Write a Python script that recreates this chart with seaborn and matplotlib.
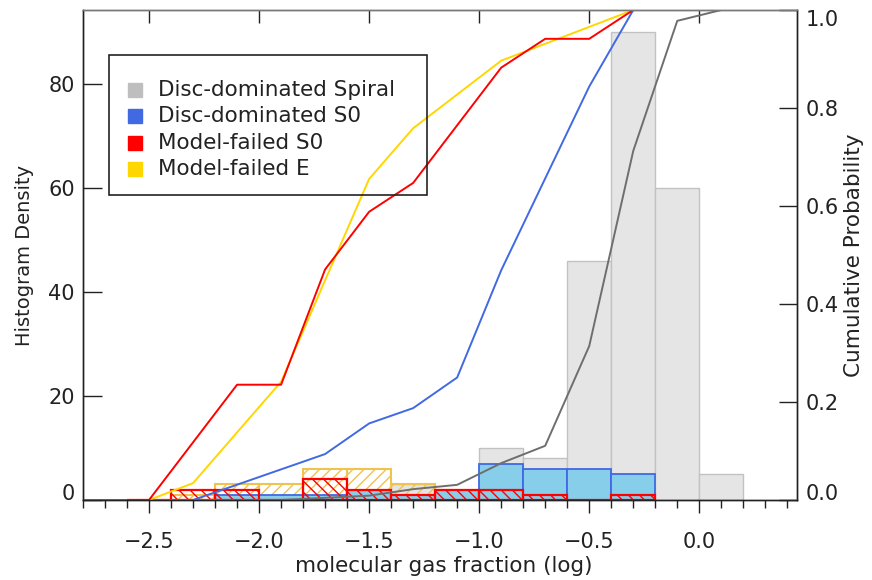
import numpy as np
import matplotlib
matplotlib.use("Agg")
import matplotlib.pyplot as plt
from matplotlib.patches import Rectangle
from matplotlib.ticker import MultipleLocator
import seaborn as sns

# ---- data: histogram counts per 0.2-dex bin of log molecular gas fraction ----
spiral_edges = np.round(np.arange(-2.8, 0.2001, 0.2), 1)
sample_edges = np.round(np.arange(-2.6, -0.1999, 0.2), 1)

spiral_counts = [0, 0, 0, 0, 0, 1, 1, 3, 2, 10, 8, 46, 90, 60, 5]
disc_s0_counts = [0, 0, 1, 1, 1, 2, 1, 2, 7, 6, 6, 5]
failed_s0_counts = [0, 2, 2, 0, 4, 2, 1, 2, 2, 1, 0, 1]
failed_e_counts = [0, 1, 3, 3, 6, 6, 3, 2, 2, 1, 1, 1]

legend_labels = ["Disc-dominated Spiral", "Disc-dominated S0",
                 "Model-failed S0", "Model-failed E"]
legend_colors = ["#bebebe", "#4169e1", "#ff0000", "#ffd700"]

x_major_ticks = [-2.5, -2.0, -1.5, -1.0, -0.5, 0.0]
left_ticks = [0, 20, 40, 60, 80]
right_ticks = [0.0, 0.2, 0.4, 0.6, 0.8, 1.0]

sns.set_style("white")
plt.rcParams["font.family"] = ["DejaVu Sans"]
plt.rcParams["hatch.linewidth"] = 1.0
TXT = "#222222"
TICK_FS = 15

fig = plt.figure(figsize=(8.72, 5.8), dpi=100)
ax = fig.add_axes([83 / 872, 80 / 580, 714 / 872, 490 / 580])


def centers(edges):
    return (edges[:-1] + edges[1:]) / 2


def hist(counts, edges, **kw):
    sns.histplot(x=list(centers(edges)), weights=list(counts),
                 bins=[float(e) for e in edges], ax=ax,
                 stat="count", element="bars", **kw)


# histograms (filled spiral, hatched E, filled S0, hatched failed S0)
hist(spiral_counts, spiral_edges, fill=True, color="#e5e5e5",
     edgecolor="#c2c2c2", alpha=1, linewidth=1.0)
hist(failed_e_counts, sample_edges, fill=False, color="#f0c24e",
     alpha=1, hatch="///", linewidth=1.5)
hist(disc_s0_counts, sample_edges, fill=True, color="#87ceeb",
     edgecolor="#4169e1", alpha=1, linewidth=1.3)
hist(failed_s0_counts, sample_edges, fill=False, color="#ff0000",
     alpha=1, hatch="\\\\\\", linewidth=1.6)

ax.set_xlim(-2.8, 0.444)
ax.set_ylim(0, 94.23)

# cumulative fractions on the right-hand axis
ax2 = ax.twinx()


def cumulative(counts, edges):
    c = np.cumsum(counts) / np.sum(counts)
    xs = np.concatenate([[edges[0]], centers(edges)])
    ys = np.concatenate([[0.0], c])
    return xs, ys


for counts, edges, col in [
    (spiral_counts, spiral_edges, "#6e6e6e"),
    (disc_s0_counts, sample_edges, "#4169e1"),
    (failed_e_counts, sample_edges, "#ffd700"),
    (failed_s0_counts, sample_edges, "#ff0000"),
]:
    xs, ys = cumulative(counts, edges)
    sns.lineplot(x=xs, y=ys, ax=ax2, color=col, linewidth=1.4,
                 sort=False, estimator=None)

ax2.set_ylim(0, 1.0)
ax2.set_xlim(-2.8, 0.444)

# ---- axes styling ----
ax.set_xticks(x_major_ticks)
ax.xaxis.set_minor_locator(MultipleLocator(0.1))
ax.set_yticks(left_ticks)
ax.tick_params(axis="x", which="major", direction="out", length=9, width=1,
               color=TXT, pad=14, labelsize=TICK_FS, labelcolor=TXT,
               top=False, bottom=True)
ax.tick_params(axis="x", which="minor", direction="out", length=6, width=1,
               color=TXT, top=False, bottom=True)
ax.tick_params(axis="y", which="major", direction="in", length=14, width=1,
               color=TXT, pad=6, labelsize=TICK_FS, labelcolor=TXT,
               left=True, right=False)
ax.set_xticklabels([f"{v:.1f}".replace("-", "\u2212") for v in x_major_ticks])

ax2.set_yticks(right_ticks)
ax2.set_yticklabels([f"{v:.1f}" for v in right_ticks])
ax2.tick_params(axis="y", direction="in", length=13, width=1, color=TXT,
                pad=6.5, labelsize=TICK_FS, labelcolor=TXT)
rl = ax2.get_yticklabels()
rl[0].set_va("baseline")
rl[-1].set_va("top")
ll = ax.get_yticklabels()
ll[0].set_va("baseline")

top = ax.secondary_xaxis("top")
top.set_xticks(x_major_ticks)
top.tick_params(direction="in", length=9, width=1, color=TXT,
                labeltop=False)
top.spines["top"].set_color("#7a7a7a")

for a in (ax, ax2):
    a.spines["top"].set_color("#7a7a7a")
    a.spines["left"].set_color(TXT)
    a.spines["right"].set_color(TXT)
    a.spines["bottom"].set_color(TXT)
    for s in a.spines.values():
        s.set_linewidth(1.0)

ax.set_xlabel("molecular gas fraction (log)", fontsize=15.5, color=TXT,
              va="baseline")
ax.set_ylabel("Histogram Density", fontsize=14, color=TXT)
ax2.set_ylabel("Cumulative Probability", fontsize=15.5, color=TXT,
               rotation=90)
ax.xaxis.set_label_coords(0.5056, -0.1463)
ax.yaxis.set_label_coords(-0.069, 0.5)
ax2.yaxis.set_label_coords(1.066, 0.5)

# ---- legend box ----
W, H = 714.0, 490.0
ax2.add_patch(Rectangle(((109 - 83) / W, (500 - 195) / H), 318 / W, 140 / H,
                        transform=ax2.transAxes, fill=False,
                        edgecolor=TXT, linewidth=1.2, zorder=5))
for i, (lab, col) in enumerate(zip(legend_labels, legend_colors)):
    yc = 89.5 + i * 26.6
    ax2.add_patch(Rectangle(((128 - 83) / W, (500 - yc - 7) / H), 14 / W,
                            14 / H, transform=ax2.transAxes, color=col,
                            zorder=5))
    ax2.text((158 - 83) / W, (500 - yc) / H, lab, transform=ax2.transAxes,
             fontsize=15.5, color=TXT, va="center", ha="left", zorder=5)

fig.savefig("out.png", dpi=100)
